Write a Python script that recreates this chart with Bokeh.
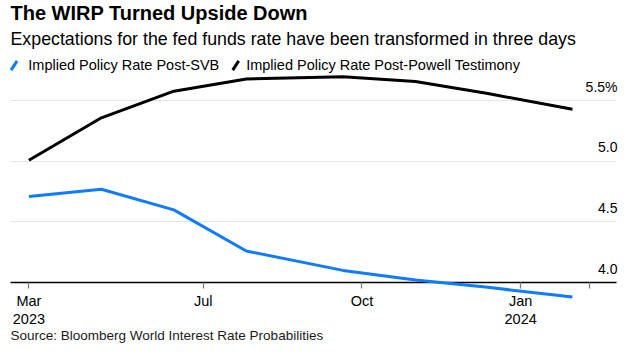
import math
from datetime import datetime, timedelta

from bokeh.plotting import figure
from bokeh.models import Range1d, FixedTicker, Grid, Title, ColumnDataSource
from bokeh.core.properties import value
from bokeh.embed import file_html
from bokeh.resources import INLINE

# ---------------- data ----------------
meeting_dates = ["2023-03-22", "2023-05-03", "2023-06-14", "2023-07-26",
                 "2023-09-20", "2023-11-01", "2023-12-13", "2024-01-31"]
post_svb = [4.71, 4.77, 4.60, 4.26, 4.10, 4.02, 3.96, 3.88]
post_powell = [5.01, 5.36, 5.58, 5.68, 5.70, 5.66, 5.56, 5.43]
series_names = ["Implied Policy Rate Post-SVB",
                "Implied Policy Rate Post-Powell Testimony"]

x_tick_dates = ["2023-03-22", "2023-07-01", "2023-10-01", "2024-01-01", "2024-02-10"]
x_tick_labels = ["Mar\n2023", "Jul", "Oct", "Jan\n2024", ""]
y_ticks = [4.0, 4.5, 5.0, 5.5]
y_tick_labels = ["4.0", "4.5", "5.0", "5.5%"]

title_text = "The WIRP Turned Upside Down"
subtitle_text = "Expectations for the fed funds rate have been transformed in three days"
source_text = "Source: Bloomberg World Interest Rate Probabilities"

# ---------------- style / layout ----------------
FONT = "Liberation Sans"
BLUE = "#0f7bff"
BLACK = "#000000"
GRID = "#e6e6e6"
COLORS = [BLUE, BLACK]

FRAME_LEFT, FRAME_TOP = 10, 54          # px inside the canvas
FRAME_W, FRAME_H = 606, 228
PX_PER_DAY = 1.7255
PX_PER_UNIT = 121.1

EPOCH = datetime(1970, 1, 1)


def to_dt(s):
    return datetime.strptime(s, "%Y-%m-%d")


def to_ms(d):
    return int((d - EPOCH).total_seconds() * 1000)


dates = [to_dt(d) for d in meeting_dates]
x_start = datetime(2023, 3, 11, 8, 0)
x_end = x_start + timedelta(days=FRAME_W / PX_PER_DAY)
y_start = 4.0
y_end = y_start + FRAME_H / PX_PER_UNIT


def px_x(px):
    return x_start + timedelta(days=(px - FRAME_LEFT) / PX_PER_DAY)


def px_y(py):
    return y_end - (py - FRAME_TOP) / PX_PER_UNIT


p = figure(width=620, height=345, x_axis_type="datetime", y_axis_location=None,
           x_range=Range1d(x_start, x_end), y_range=Range1d(y_start, y_end),
           output_backend="svg", toolbar_location=None,
           min_border_left=FRAME_LEFT, min_border_right=620 - FRAME_LEFT - FRAME_W,
           min_border_top=FRAME_TOP, min_border_bottom=345 - FRAME_TOP - FRAME_H)
p.outline_line_color = None
p.background_fill_color = "white"
p.border_fill_color = "white"
for g in p.xgrid:
    g.visible = False

# titles
p.title.text = title_text
p.title.text_font = FONT
p.title.text_font_size = "20px"
p.title.text_font_style = "bold"
p.title.text_color = BLACK
p.title.align = "left"
p.title.vertical_align = "bottom"
p.title.standoff = -4
p.title.offset = 0

sub = Title(text=subtitle_text, text_font=FONT, text_font_size="17.8px",
            text_font_style="normal", text_color=BLACK, align="left",
            vertical_align="bottom", standoff=11)
p.add_layout(sub, "above")

# grid
p.add_layout(Grid(dimension=1, ticker=FixedTicker(ticks=y_ticks),
                  grid_line_color=GRID, grid_line_width=1))

src = ColumnDataSource(dict(date=dates, svb=post_svb, powell=post_powell))

r_black = p.line("date", "powell", source=src, line_color=BLACK, line_width=3)
r_blue = p.line("date", "svb", source=src, line_color=BLUE, line_width=3,
                level="overlay")

# legend: slash icons + labels
leg_icon_px = [13.6, 235.2]
leg_text_px = [27.8, 245.7]
p.scatter(x=[px_x(v) for v in leg_icon_px], y=[px_y(65)] * 2, marker="dash",
          angle=math.radians(57), size=11, line_color=COLORS, line_width=3,
          level="overlay")
p.text(x=[x_start] * 2, y=[y_end] * 2, text=series_names,
       x_offset=[v - FRAME_LEFT for v in leg_text_px], y_offset=10.5,
       text_font=value(FONT), text_font_size="14.5px", text_align="left",
       text_baseline="alphabetic", text_color=BLACK, level="overlay")

# x axis
ax = p.xaxis[0]
tick_ms = [to_ms(to_dt(d)) for d in x_tick_dates]
ax.ticker = FixedTicker(ticks=tick_ms)
ax.major_label_overrides = {t: lab for t, lab in zip(tick_ms, x_tick_labels)}
ax.axis_line_color = BLACK
ax.axis_line_width = 1.3
ax.major_tick_in = 0
ax.major_tick_out = 6
ax.major_tick_line_color = "#808080"
ax.major_tick_line_width = 1.3
ax.minor_tick_line_color = None
ax.major_label_standoff = 4
ax.major_label_text_font = FONT
ax.major_label_text_font_size = "14.5px"
ax.major_label_text_color = BLACK
ax.major_label_text_line_height = 1.13

# y labels (above gridlines, right side)
ylab = ColumnDataSource(dict(x=[x_end] * len(y_ticks), y=y_ticks, text=y_tick_labels))
p.text(x="x", y="y", text="text", source=ylab, text_font=value(FONT),
       text_font_size="14px", text_align="right", text_baseline="alphabetic",
       x_offset=1, y_offset=-14, text_color=BLACK, level="overlay")

# source note
p.text(x=[x_start], y=[y_start], text=[source_text], text_font=value(FONT),
       text_font_size="13.5px", text_align="left", text_baseline="alphabetic",
       x_offset=0, y_offset=53, text_color="#1a1a1a", level="overlay")

open("out.html", "w").write(file_html(p, INLINE))
